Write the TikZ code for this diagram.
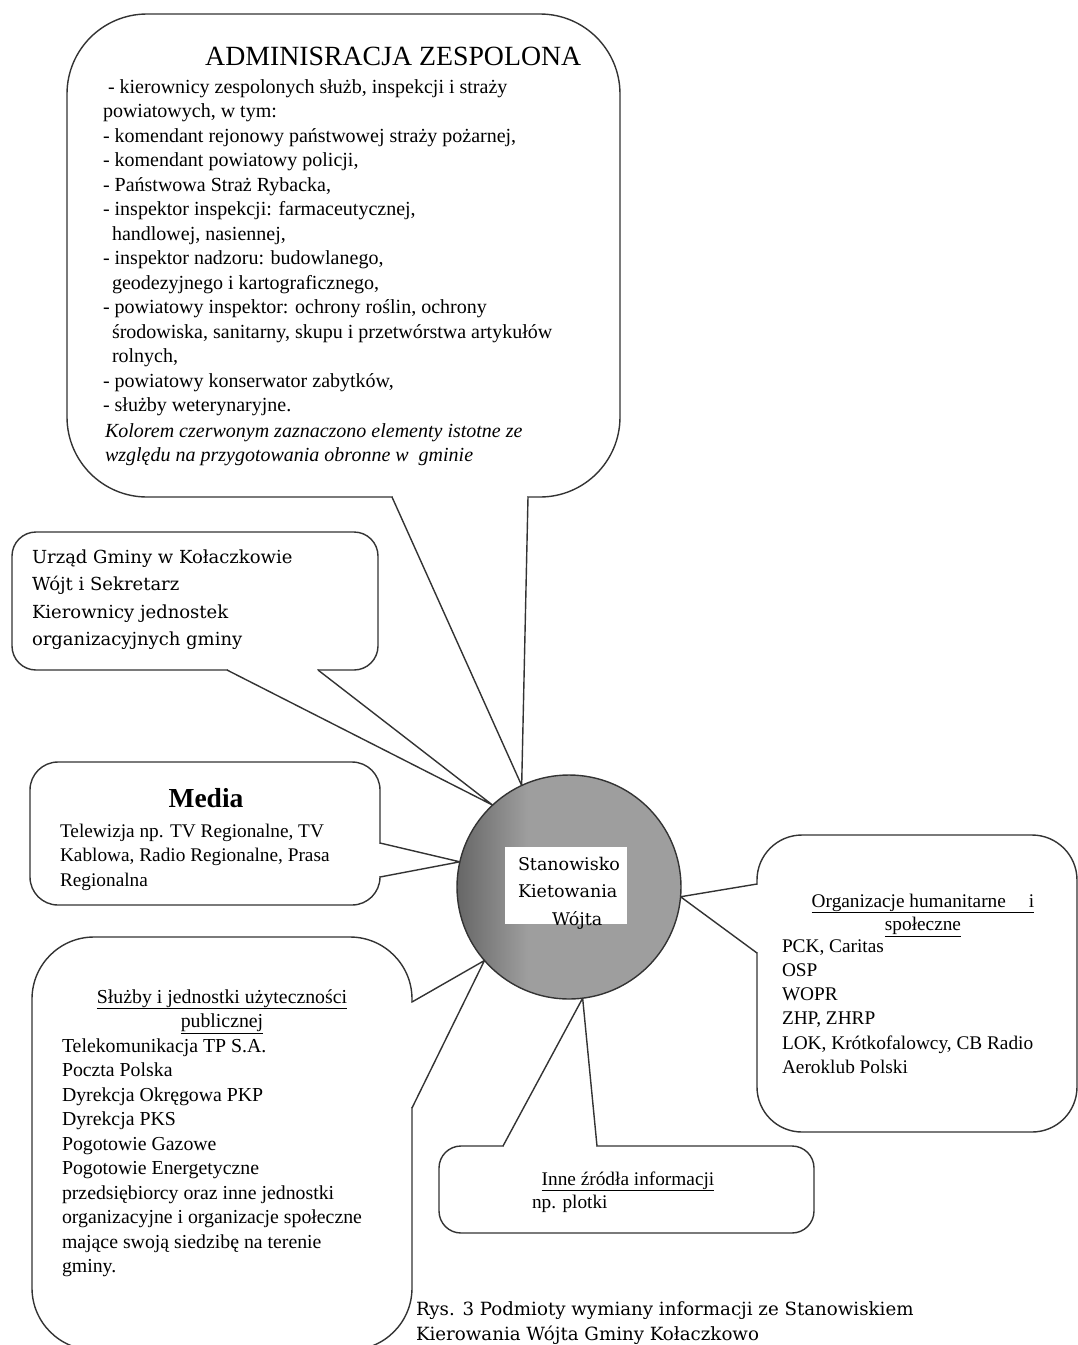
\documentclass[tikz,border=0pt]{standalone}
\usepackage{fontspec}
\setmainfont{Liberation Serif}
\newfontfamily\cent{DejaVu Serif}
\newcommand\mkptr[3]{%
  \fill[white] (#1) -- (#2) -- (#3) -- cycle;
  \draw[white, line width=3.2pt, shorten <=1.3pt, shorten >=1.3pt] (#1) -- (#3);
  \draw[ln] (#1) -- (#2) -- (#3);}
\begin{document}
\begin{tikzpicture}[x=1pt,y=-1pt,
  bx/.style={draw=black!80, line width=1.4pt, fill=white, inner sep=0pt, outer sep=0pt},
  ln/.style={draw=black!80, line width=1.4pt, line join=miter},
  txt/.style={inner sep=0pt, outer sep=0pt, anchor=base west, align=left, font=\fontsize{19.3}{24.5}\selectfont},
  ttl/.style={inner sep=0pt, outer sep=0pt, anchor=base, align=center, font=\fontsize{19.3}{24.5}\selectfont},
  cen/.style={inner sep=0pt, outer sep=0pt, anchor=base west, align=left, font=\cent\fontsize{17.5}{27.5}\selectfont},
]
\useasboundingbox (0,0) rectangle (1078,1345);
\clip (0,0) rectangle (1078,1345);
\fill[white] (0,0) rectangle (1078,1345);

% boxes
\node[bx, rounded corners=80pt, minimum width=553pt, minimum height=483pt] (adm) at (343.5,255.5) {};
\node[bx, rounded corners=24pt, minimum width=366pt, minimum height=138pt] (urz) at (195,601) {};
\node[bx, rounded corners=28pt, minimum width=350pt, minimum height=143pt] (med) at (205,833.5) {};
\node[bx, rounded corners=62pt, minimum width=380pt, minimum height=413pt] (slu) at (222,1143.5) {};
\node[bx, rounded corners=45pt, minimum width=320pt, minimum height=297pt] (org) at (917,983.5) {};
\node[bx, rounded corners=22pt, minimum width=375pt, minimum height=87pt] (inn) at (626.5,1189.5) {};

% centre
\node[circle, minimum size=224pt, inner sep=0pt, outer sep=0pt] (ctr) at (569,887) {};

% pointer base points
\coordinate (admA) at (392,497);  \coordinate (admB) at (528,497);
\coordinate (urzA) at (227,670);  \coordinate (urzB) at (318,670);
\coordinate (medA) at (380,843);  \coordinate (medB) at (380,877);
\coordinate (sluA) at (412,1002); \coordinate (sluB) at (412,1108);
\coordinate (orgA) at (757,884);  \coordinate (orgB) at (757,953);
\coordinate (innA) at (503,1146); \coordinate (innB) at (597,1146);

\mkptr{admA}{ctr.115}{admB}
\mkptr{urzA}{ctr.133}{urzB}
\mkptr{medA}{ctr.167}{medB}
\mkptr{sluA}{ctr.221}{sluB}
\mkptr{orgA}{ctr.-5}{orgB}
\mkptr{innA}{ctr.277}{innB}

% circle fill
\begin{scope}
  \clip (ctr.center) circle[radius=112];
  \fill[black!38] (ctr.center) circle[radius=112];
  \shade[left color=black!62, right color=black!38] (450,770) rectangle (528,1005);
\end{scope}
\draw[ln] (ctr.center) circle[radius=112];
\node[fill=white, minimum width=122pt, minimum height=77pt, inner sep=0pt] (ctrbox) at (566,885.5) {};
\node[cen] (ctrtxt) at (518,925) {Stanowisko\\Kietowania\\\hspace*{34pt}Wójta};

% texts (multi-line nodes: anchor is the baseline of the last line)
\node[inner sep=0pt, anchor=base west, font=\fontsize{27.8}{30}\selectfont] (admT) at (205,65) {ADMINISRACJA ZESPOLONA};
\node[txt, font=\fontsize{20}{24.5}\selectfont] (admL) at (103,411.5) {\hspace*{5pt}- kierownicy zespolonych służb, inspekcji i straży\\
powiatowych, w tym:\\
- komendant rejonowy państwowej straży pożarnej,\\
- komendant powiatowy policji,\\
- Państwowa Straż Rybacka,\\
- inspektor inspekcji: farmaceutycznej,\\
\hspace*{9pt}handlowej, nasiennej,\\
- inspektor nadzoru: budowlanego,\\
\hspace*{9pt}geodezyjnego i kartograficznego,\\
- powiatowy inspektor: ochrony roślin, ochrony\\
\hspace*{9pt}środowiska, sanitarny, skupu i przetwórstwa artykułów\\
\hspace*{9pt}rolnych,\\
- powiatowy konserwator zabytków,\\
- służby weterynaryjne.};
\node[txt, font=\itshape\fontsize{20}{24.5}\selectfont] (admI) at (105,461.5) {Kolorem czerwonym zaznaczono elementy istotne ze\\
względu na przygotowania obronne w\ \ gminie};

\node[cen, font=\cent\fontsize{18}{27.5}\selectfont] (urzT) at (32,645.5) {Urząd Gminy w Kołaczkowie\\Wójt i Sekretarz\\Kierownicy jednostek\\organizacyjnych gminy};

\node[inner sep=0pt, anchor=base, font=\bfseries\fontsize{27.5}{30}\selectfont] (medT) at (206,807) {Media};
\node[txt] (medL) at (60,886) {Telewizja np. TV Regionalne, TV\\Kablowa, Radio Regionalne, Prasa\\Regionalna};

\node[ttl, font=\fontsize{19.8}{24.5}\selectfont] (sluT) at (222,1027.5) {\underline{Służby i jednostki użyteczności}\\\underline{publicznej}};
\node[txt, font=\fontsize{19.8}{24.5}\selectfont] (sluL) at (62,1272.5) {Telekomunikacja TP S.A.\\Poczta Polska\\Dyrekcja Okręgowa PKP\\Dyrekcja PKS\\Pogotowie Gazowe\\Pogotowie Energetyczne\\przedsiębiorcy oraz inne jednostki\\organizacyjne i organizacje społeczne\\mające swoją siedzibę na terenie\\gminy.};

\node[ttl, font=\fontsize{19.3}{23.5}\selectfont] (orgT) at (923,930.5) {\underline{Organizacje humanitarne\hspace*{23pt}i}\\\underline{społeczne}};
\node[txt, font=\fontsize{19.3}{24.3}\selectfont] (orgL) at (782,1073.5) {PCK, Caritas\\OSP\\WOPR\\ZHP, ZHRP\\LOK, Krótkofalowcy, CB Radio\\Aeroklub Polski};

\node[ttl] (innT) at (628,1185) {\underline{Inne źródła informacji}};
\node[txt] (innL) at (532,1208) {np. plotki};

\node[cen, font=\cent\fontsize{18.2}{25}\selectfont] (cap) at (416,1340) {Rys. 3 Podmioty wymiany informacji ze Stanowiskiem\\Kierowania Wójta Gminy Kołaczkowo};
\end{tikzpicture}
\end{document}
